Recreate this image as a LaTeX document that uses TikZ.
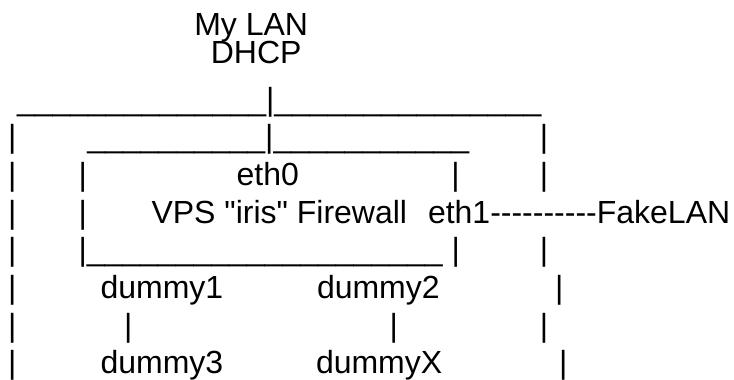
\documentclass[tikz,border=0pt]{standalone}
\usepackage{fontspec}
\setmainfont{Liberation Sans}[Ligatures=TeXOff]
\newcommand\usr[1]{\foreach\k in {1,...,#1}{\_}}
\begin{document}
\begin{tikzpicture}[x=1bp,y=-1bp,
  txt/.style={anchor=base west,inner sep=0pt,outer sep=0pt,font=\fontsize{32bp}{38bp}\selectfont},
  bar/.style={anchor=base,inner sep=0pt,outer sep=0pt,font=\fontsize{32bp}{38bp}\selectfont}]
\useasboundingbox (0,0) rectangle (734,379);
% row 1-2
\node[txt] (mylan) at (194.3,35) {My LAN};
\node[txt] (dhcp) at (210.8,63.5) {DHCP};
% row 3
\node[txt] (top) at (17,110) {\usr{14}|\usr{15}};
% row 4
\node[bar] (b4a) at (12.3,147.7) {|};
\node[txt] (fwtop) at (87.3,147.7) {\usr{10}|\usr{11}};
\node[bar] (b4b) at (544,147.7) {|};
% row 5
\node[bar] (b5a) at (12.3,185.4) {|};
\node[bar] (b5b) at (82.7,185.4) {|};
\node[txt] (eth0) at (236.7,185.4) {eth0};
\node[bar] (b5c) at (455.5,185.4) {|};
\node[bar] (b5d) at (544,185.4) {|};
% row 6
\node[bar] (b6a) at (12.3,223.1) {|};
\node[bar] (b6b) at (82.7,223.1) {|};
\node[txt] (vps) at (151.5,223.1) {VPS "iris" Firewall};
\node[txt] (eth1) at (428,223.1) {eth1----------FakeLAN};
% row 7
\node[bar] (b7a) at (12.3,260.8) {|};
\node[txt] (fwbot) at (78.5,260.8) {|\usr{20} |};
\node[bar] (b7b) at (544,260.8) {|};
% row 8
\node[bar] (b8a) at (12.3,298.5) {|};
\node[txt] (d1) at (100.6,298.5) {dummy1};
\node[txt] (d2) at (317,298.5) {dummy2};
\node[bar] (b8b) at (559.3,298.5) {|};
% row 9
\node[bar] (b9a) at (12.3,336.2) {|};
\node[bar] (b9b) at (128.3,336.2) {|};
\node[bar] (b9c) at (393.7,336.2) {|};
\node[bar] (b9d) at (544,336.2) {|};
% row 10
\node[bar] (b10a) at (12.3,373.9) {|};
\node[txt] (d3) at (100.6,373.9) {dummy3};
\node[txt] (dx) at (316,373.9) {dummyX};
\node[bar] (b10b) at (563.3,373.9) {|};
\end{tikzpicture}
\end{document}
